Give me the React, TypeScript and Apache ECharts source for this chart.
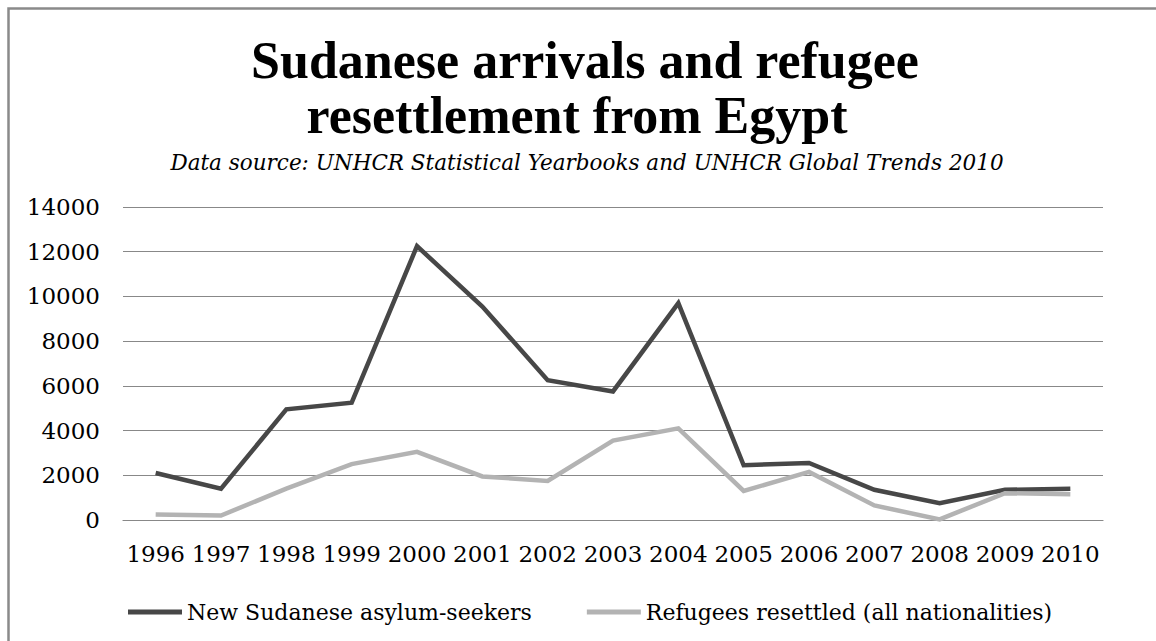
import React, { useEffect, useRef } from "react";
import * as echarts from "echarts";

const years = ["1996", "1997", "1998", "1999", "2000", "2001", "2002", "2003", "2004", "2005", "2006", "2007", "2008", "2009", "2010"];
const asylumSeekers = [2100, 1400, 4950, 5250, 12250, 9550, 6250, 5750, 9700, 2450, 2550, 1350, 750, 1350, 1400];
const resettled = [250, 200, 1400, 2500, 3050, 1950, 1750, 3550, 4100, 1300, 2150, 650, 30, 1200, 1150];
const seriesNames = ["New Sudanese asylum-seekers", "Refugees resettled (all nationalities)"];
const titleLines = ["Sudanese arrivals and refugee", "resettlement from Egypt"];
const subtitle = "Data source: UNHCR Statistical Yearbooks and UNHCR Global Trends 2010";

export default function App() {
  const ref = useRef<HTMLDivElement>(null);
  useEffect(() => {
    if (!ref.current) return;
    const chart = echarts.init(ref.current, null, { renderer: "svg" });
    const serif = "'DejaVu Serif', serif";
    chart.setOption({
      animation: false,
      backgroundColor: "#ffffff",
      graphic: [
        {
          type: "rect",
          shape: { x: 8.5, y: 8.5, width: 1300, height: 800 },
          style: { fill: "none", stroke: "#8a8a8a", lineWidth: 2.5 },
          silent: true,
        },
        {
          type: "text",
          x: 585,
          y: 60,
          style: {
            text: titleLines[0],
            font: "bold 52px 'Liberation Serif', serif",
            fill: "#000",
            align: "center",
            verticalAlign: "middle",
          },
        },
        {
          type: "text",
          x: 577,
          y: 115,
          style: {
            text: titleLines[1],
            font: "bold 52px 'Liberation Serif', serif",
            fill: "#000",
            align: "center",
            verticalAlign: "middle",
          },
        },
        {
          type: "text",
          x: 587,
          y: 162,
          style: {
            text: subtitle,
            font: "italic 21.5px 'DejaVu Serif', serif",
            fill: "#000",
            align: "center",
            verticalAlign: "middle",
          },
        },
      ],
      grid: { left: 123, right: 53, top: 207, bottom: 121, containLabel: false },
      legend: {
        left: 123,
        top: 596,
        itemWidth: 54,
        itemHeight: 5,
        itemGap: 55,
        icon: "rect",
        textStyle: { fontFamily: serif, fontSize: 22, color: "#000" },
        data: seriesNames,
      },
      xAxis: {
        type: "category",
        data: years,
        boundaryGap: true,
        axisLine: { show: true, lineStyle: { color: "#888888", width: 1.2 } },
        axisTick: { show: false },
        axisLabel: { fontFamily: serif, fontSize: 23, color: "#000", margin: 22, interval: 0 },
      },
      yAxis: {
        type: "value",
        min: 0,
        max: 14000,
        interval: 2000,
        axisLine: { show: false },
        axisTick: { show: false },
        axisLabel: {
          fontFamily: serif,
          fontSize: 23,
          color: "#000",
          margin: 23,
          formatter: (v: number) => String(v),
        },
        splitLine: { show: true, lineStyle: { color: "#888888", width: 1.2 } },
      },
      series: [
        {
          name: seriesNames[0],
          type: "line",
          data: asylumSeekers,
          symbol: "none",
          lineStyle: { color: "#474747", width: 4.5, join: "miter", cap: "butt" },
          itemStyle: { color: "#474747" },
        },
        {
          name: seriesNames[1],
          type: "line",
          data: resettled,
          symbol: "none",
          lineStyle: { color: "#b3b3b3", width: 4.5, join: "miter", cap: "butt" },
          itemStyle: { color: "#b3b3b3" },
        },
      ],
    });
    return () => chart.dispose();
  }, []);
  return (
    <div
      ref={ref}
      style={{ position: "fixed", left: 0, top: 0, width: 1156, height: 641, background: "#fff" }}
    />
  );
}
